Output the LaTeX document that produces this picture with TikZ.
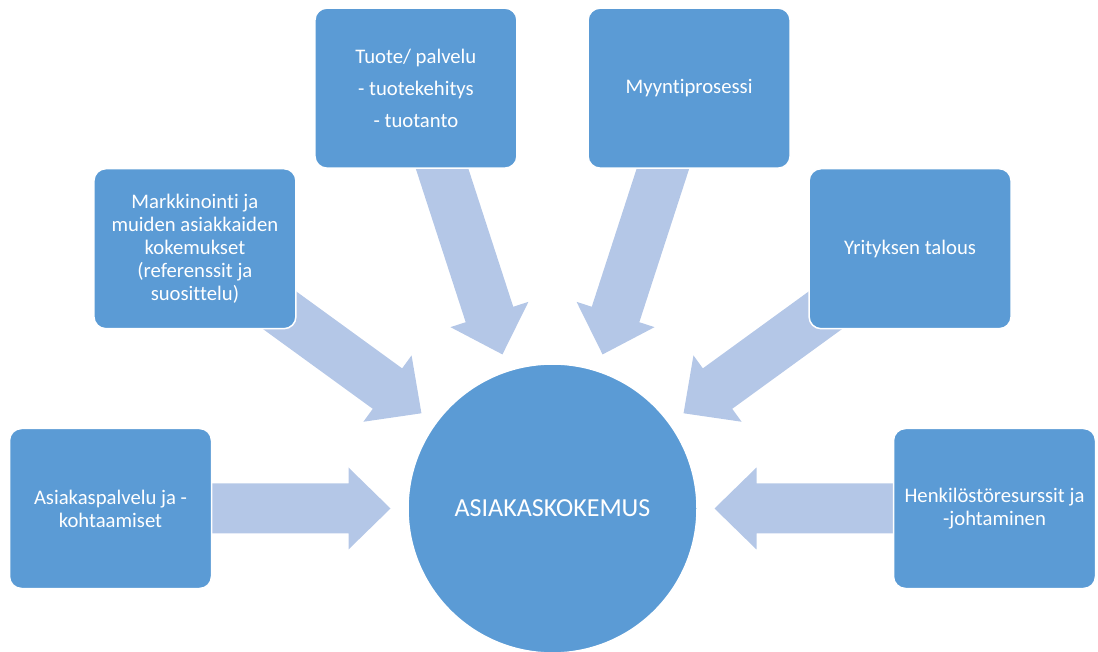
\documentclass[tikz,border=0pt]{standalone}
\usepackage{fontspec}
\setmainfont{Carlito}[Ligatures={NoCommon,NoContextual}]
\usetikzlibrary{calc,backgrounds}
\definecolor{boxblue}{HTML}{5B9BD5}
\definecolor{arrowblue}{HTML}{B4C7E7}
\begin{document}
\begin{tikzpicture}[x=1pt,y=1pt,
  box/.style={draw=white, line width=1.5pt, fill=boxblue, rounded corners=12pt,
    minimum width=202pt, minimum height=160pt, text=white, align=center,
    font=\fontsize{20.7}{23.2}\selectfont, inner sep=0pt},
  hub/.style={circle, draw=white, line width=1.5pt, fill=boxblue, minimum size=289pt,
    text=white, font=\fontsize{26}{30}\selectfont, inner sep=0pt},
  blockarrow/.style={fill=arrowblue}]
\useasboundingbox (0,0) rectangle (1098,651);
\clip (0,0) rectangle (1098,651);
\node[hub] (hub) at (552.5,142.5) {ASIAKASKOKEMUS};
\node[box] (b1) at ($(hub.center)+(180:442)$) {Asiakaspalvelu ja -\\kohtaamiset};
\node[box] (b2) at ($(hub.center)+(144:442)$) {Markkinointi ja\\muiden asiakkaiden\\kokemukset\\(referenssit ja\\suosittelu)};
\node[box] (b3) at ($(hub.center)+(108:442)$) {Tuote/ palvelu\\[8.8pt]- tuotekehitys\\[8.8pt]- tuotanto};
\node[box] (b4) at ($(hub.center)+(72:442)$) {Myyntiprosessi};
\node[box] (b5) at ($(hub.center)+(36:442)$) {Yrityksen talous};
\node[box] (b6) at ($(hub.center)+(0:442)$) {Henkilöstöresurssit ja\\-johtaminen};
\begin{scope}[on background layer]
\foreach \a in {180,144,108,72,36,0}{
  \begin{scope}[shift={(hub.center)}, rotate=\a]
    \fill[blockarrow] (162,0) -- (204,41) -- (204,25) -- (380,25) -- (380,-25)
      -- (204,-25) -- (204,-41) -- cycle;
  \end{scope}}
\end{scope}
\end{tikzpicture}
\end{document}
